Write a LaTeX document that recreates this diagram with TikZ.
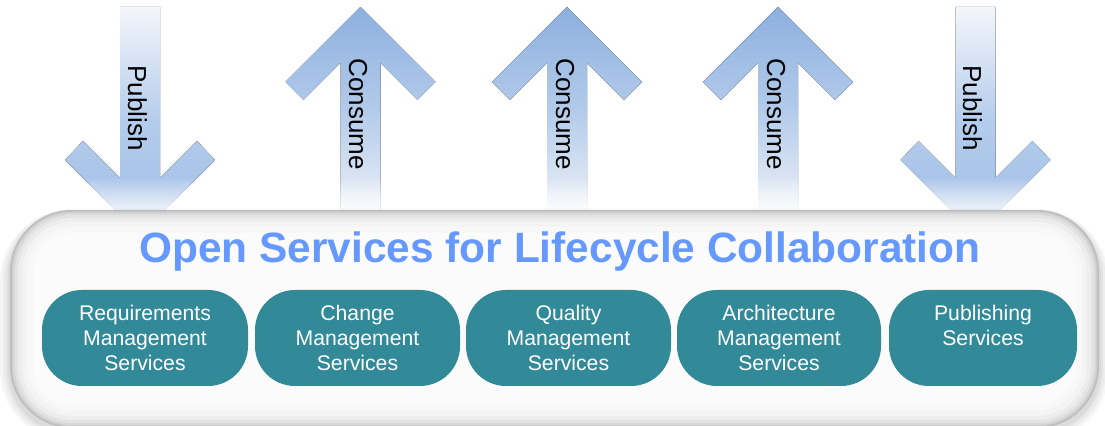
\documentclass[tikz,border=0pt]{standalone}
\usepackage{fontspec}
\setmainfont{Liberation Sans}
\usetikzlibrary{fadings}
\definecolor{tealbox}{RGB}{50,137,151}
\definecolor{titleblue}{RGB}{102,153,255}
\definecolor{upA}{RGB}{141,176,223}
\definecolor{upB}{RGB}{179,203,234}
\definecolor{upC}{RGB}{238,242,248}
\definecolor{dnA}{RGB}{244,246,250}
\definecolor{dnB}{RGB}{180,204,236}
\definecolor{dnC}{RGB}{160,190,230}
\tikzfading[name=glowfade, top color=transparent!100, bottom color=transparent!25]
\tikzset{
  uparr/.style={top color=upA, bottom color=upC, middle color=upB},
  dnarr/.style={top color=dnA, bottom color=dnC, middle color=dnB},
  arrtxt/.style={rotate=-90, anchor=base west, inner sep=0pt, text=black,
    font=\fontsize{13}{15}\selectfont},
  svc/.style={fill=tealbox, rounded corners=20pt, minimum height=48pt,
    text=white, align=center, inner sep=0pt,
    font=\fontsize{10.6}{12.6}\selectfont},
  titletxt/.style={anchor=base, inner sep=0pt, text=titleblue,
    font=\fontsize{21.2}{24}\selectfont\bfseries}
}
\begin{document}
\begin{tikzpicture}[x=0.5pt,y=-0.5pt]
\useasboundingbox (0,0) rectangle (1105,426);
\fill[white] (0,0) rectangle (1105,426);
% down arrows (Publish)
\foreach \c in {140,975.5} {
  \fill[dnarr] (\c-20,7) -- (\c+20,7) -- (\c+20,178) -- (\c+57,141) -- (\c+75,160)
    -- (\c,235) -- (\c-75,160) -- (\c-57,141) -- (\c-20,178) -- cycle;
}
% up arrows (Consume)
\foreach \c in {360.5,567,778} {
  \fill[uparr] (\c,7) -- (\c+75,82) -- (\c+57,100) -- (\c+20,63) -- (\c+20,215)
    -- (\c-20,215) -- (\c-20,63) -- (\c-57,100) -- (\c-75,82) -- cycle;
}
\node[arrtxt] (pub1) at (128,65) {Publish};
\node[arrtxt] (con1) at (349,58) {Consume};
\node[arrtxt] (con2) at (556,58) {Consume};
\node[arrtxt] (con3) at (767,58) {Consume};
\node[arrtxt] (pub2) at (963,65) {Publish};
% glow above the platform
\fill[white, path fading=glowfade] (0,178) rectangle (1105,214);
% soft shadow of the platform
\foreach \d in {10,7,4,2} {
  \pgfmathsetmacro\rr{31+\d*0.5}
  \fill[black, opacity=0.035, rounded corners=\rr pt] (10-\d,212-\d*0.3) rectangle (1099+\d,432+\d);
}
% platform
\foreach \d/\c in {0/26,1.5/20,3/15,5/11,8/7,12/4.5,17/2.8,23/1.5} {
  \pgfmathsetmacro\rr{31-\d*0.5}
  \fill[black!\c, rounded corners=\rr pt] (10+\d,210+\d) rectangle (1099-\d,428-\d);
}
\fill[white, path fading=glowfade, opacity=0.5] (0,176) rectangle (1105,210);
% title
\node[titletxt] (title) at (560,263) {Open Services for Lifecycle Collaboration};
% services
\node[svc, minimum width=103pt] (req) at (145,338) {Requirements\\Management\\Services};
\node[svc, minimum width=102.5pt] (chg) at (357.5,338) {Change\\Management\\Services};
\node[svc, minimum width=102.5pt] (qlt) at (568.5,338) {Quality\\Management\\Services};
\node[svc, minimum width=102pt] (arc) at (779,338) {Architecture\\Management\\Services};
\node[svc, minimum width=94pt] (pbs) at (983,338) {Publishing\\Services\\\phantom{S}};
\end{tikzpicture}
\end{document}
